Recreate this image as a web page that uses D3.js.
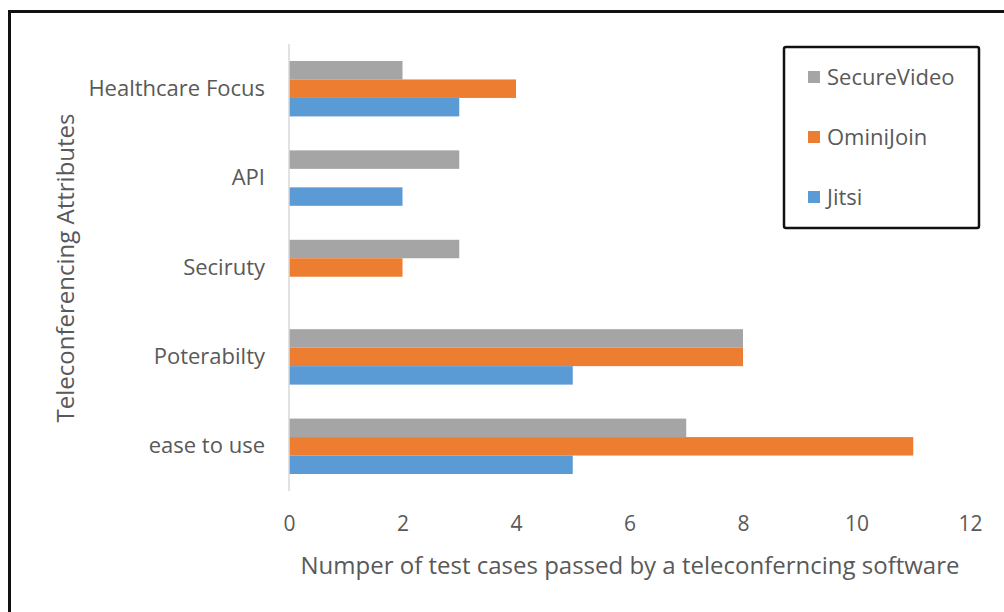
<!DOCTYPE html>
<html>
<head>
<meta charset="utf-8">
<script src="https://cdn.jsdelivr.net/npm/d3@7"></script>
<style>
  body { margin: 0; background: #fff; }
  svg { display: block; font-family: "Open Sans", sans-serif; }
</style>
</head>
<body>
<svg id="chart" width="1004" height="612"></svg>
<script>
// chart data
const categories = ['Healthcare Focus', 'API', 'Seciruty', 'Poterabilty', 'ease to use'];
const seriesNames = ['SecureVideo', 'OminiJoin', 'Jitsi'];
const secureVideo = [2, 3, 3, 8, 7];
const ominiJoin = [4, 0, 2, 8, 11];
const jitsi = [3, 2, 0, 5, 5];
const xTicks = [0, 2, 4, 6, 8, 10, 12];

const colors = { SecureVideo: '#a5a5a5', OminiJoin: '#ed7d31', Jitsi: '#5b9bd5' };
const values = { SecureVideo: secureVideo, OminiJoin: ominiJoin, Jitsi: jitsi };

const margin = { top: 44, left: 289, right: 34, bottom: 121 };
const width = 1004, height = 612;

const svg = d3.select('#chart');

// outer frame (clipped at right and bottom like the picture)
svg.append('rect')
  .attr('x', 9.5).attr('y', 11.5)
  .attr('width', 1010).attr('height', 620)
  .attr('fill', 'none')
  .attr('stroke', '#111')
  .attr('stroke-width', 3);

const x = d3.scaleLinear().domain([0, 12]).range([margin.left, width - margin.right]);
const y = d3.scaleBand().domain(categories).range([margin.top, height - margin.bottom]).paddingInner(0.38).paddingOuter(0.19);
const inner = d3.scaleBand().domain(seriesNames).range([0, y.bandwidth()]);

const rows = [];
categories.forEach((c, i) => {
  seriesNames.forEach(s => rows.push({ cat: c, series: s, value: values[s][i] }));
});

// bars
svg.append('g')
  .selectAll('rect')
  .data(rows.filter(d => d.value > 0))
  .join('rect')
  .attr('x', x(0))
  .attr('y', d => y(d.cat) + inner(d.series))
  .attr('width', d => x(d.value) - x(0))
  .attr('height', inner.bandwidth())
  .attr('fill', d => colors[d.series]);

// y axis line
svg.append('line')
  .attr('x1', x(0)).attr('x2', x(0))
  .attr('y1', margin.top).attr('y2', height - margin.bottom)
  .attr('stroke', '#d9d9d9')
  .attr('stroke-width', 1.5);

// y axis labels
const yAxis = svg.append('g')
  .attr('transform', `translate(${x(0) - 24}, 0)`)
  .call(d3.axisLeft(y).tickSize(0).tickPadding(0));
yAxis.select('.domain').remove();
yAxis.selectAll('text')
  .attr('fill', '#595959')
  .style('font-size', '22px')
  .style('font-family', '"Open Sans", sans-serif');

// x axis labels
const xAxis = svg.append('g')
  .attr('transform', `translate(0, ${height - margin.bottom + 25})`)
  .call(d3.axisBottom(x).tickValues(xTicks).tickSize(0).tickPadding(0));
xAxis.select('.domain').remove();
xAxis.selectAll('text')
  .attr('fill', '#595959')
  .style('font-size', '21px')
  .style('font-family', '"Open Sans", sans-serif');

// axis titles
svg.append('text')
  .attr('x', 630).attr('y', 574)
  .attr('text-anchor', 'middle')
  .attr('fill', '#595959')
  .style('font-size', '24px')
  .text('Numper of test cases passed by a teleconferncing software');

svg.append('text')
  .attr('transform', 'translate(74, 268) rotate(-90)')
  .attr('text-anchor', 'middle')
  .attr('fill', '#595959')
  .style('font-size', '24px')
  .text('Teleconferencing Attributes');

// legend
const legend = svg.append('g');
legend.append('rect')
  .attr('x', 784).attr('y', 47)
  .attr('width', 195).attr('height', 181)
  .attr('rx', 2)
  .attr('fill', '#fff')
  .attr('stroke', '#111')
  .attr('stroke-width', 2.5);

const item = legend.selectAll('g.item')
  .data(seriesNames)
  .join('g')
  .attr('class', 'item')
  .attr('transform', (d, i) => `translate(808, ${77 + i * 60})`);
item.append('rect')
  .attr('x', 0).attr('y', -6)
  .attr('width', 12).attr('height', 12)
  .attr('fill', d => colors[d]);
item.append('text')
  .attr('x', 19).attr('dy', '0.35em')
  .attr('fill', '#595959')
  .style('font-size', '22px')
  .text(d => d);
</script>
</body>
</html>
